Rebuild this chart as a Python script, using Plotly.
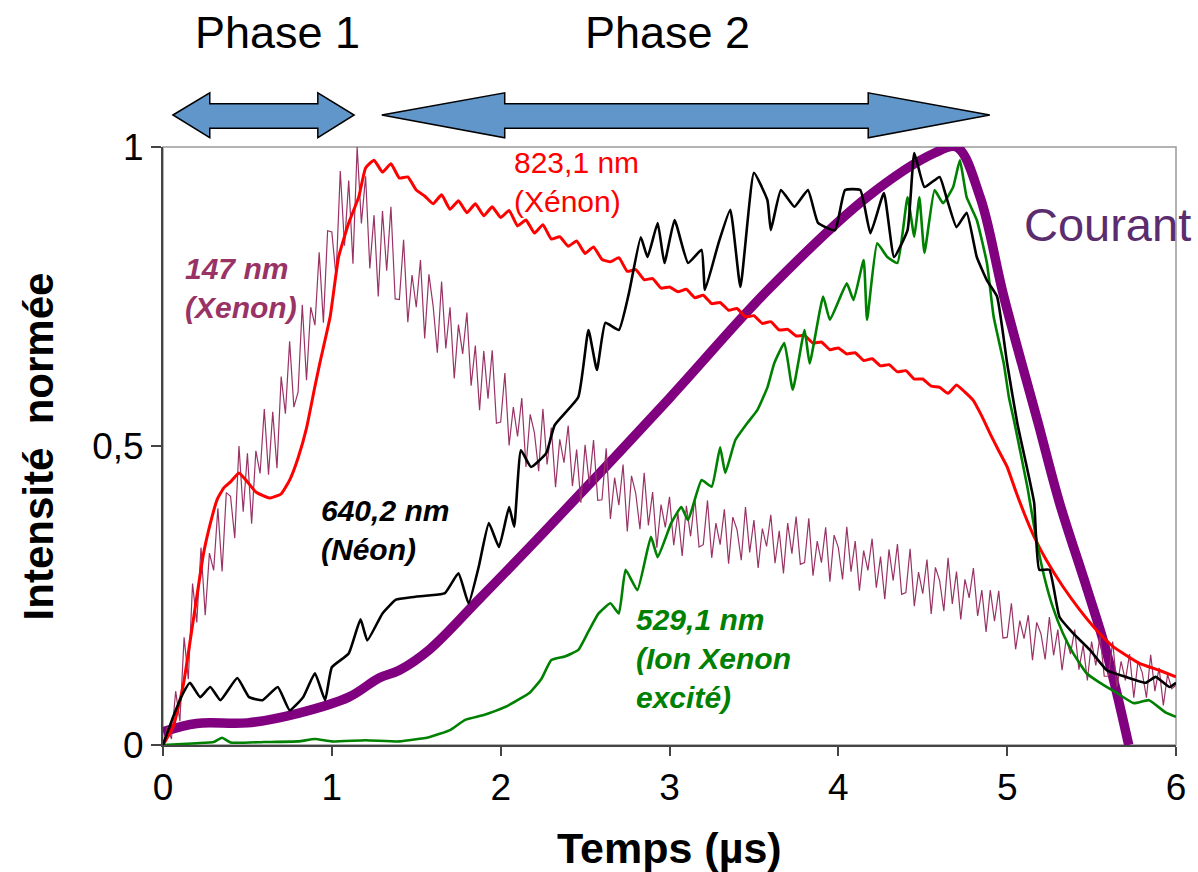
import plotly.graph_objects as go

# ---------------- data ----------------
t_courant = [0, 0.2, 0.5, 0.8, 1.1, 1.28, 1.4, 1.58, 1.87, 2.27, 3.0, 3.58, 4.17, 4.57, 4.70,
             4.84, 4.98, 5.18, 5.31, 5.47, 5.59, 5.72]
i_courant = [0.022, 0.036, 0.037, 0.053, 0.08, 0.112, 0.125, 0.16, 0.243, 0.36, 0.58, 0.76,
             0.916, 0.99, 1.0, 0.916, 0.75, 0.542, 0.405, 0.264, 0.154, 0.0]

# 147 nm, sampled every 0.025 µs
t_147 = [round(k * 0.025, 3) for k in range(241)]
i_147 = [0.0, 0.03, 0.01, 0.09, 0.04, 0.18, 0.11, 0.27,
         0.205, 0.33, 0.217, 0.321, 0.292, 0.396, 0.29, 0.422,
         0.416, 0.346, 0.50, 0.39, 0.488, 0.37, 0.492, 0.454,
         0.562, 0.452, 0.557, 0.463, 0.616, 0.554, 0.675, 0.565,
         0.59, 0.736, 0.61, 0.732, 0.702, 0.824, 0.706, 0.86,
         0.858, 0.783, 0.96, 0.835, 0.944, 0.805, 1.0, 0.872,
         0.951, 0.797, 0.886, 0.75, 0.893, 0.793, 0.90, 0.746,
         0.745, 0.845, 0.707, 0.786, 0.732, 0.811, 0.68, 0.787,
         0.734, 0.656, 0.775, 0.663, 0.732, 0.613, 0.703, 0.654,
         0.723, 0.601, 0.668, 0.56, 0.659, 0.579, 0.66, 0.538,
         0.54, 0.622, 0.501, 0.565, 0.516, 0.58, 0.465, 0.553,
         0.522, 0.458, 0.562, 0.469, 0.531, 0.431, 0.511, 0.472,
         0.534, 0.433, 0.494, 0.405, 0.502, 0.437, 0.51, 0.409,
         0.41, 0.496, 0.378, 0.447, 0.401, 0.469, 0.357, 0.45,
         0.421, 0.361, 0.455, 0.367, 0.423, 0.33, 0.402, 0.364,
         0.415, 0.334, 0.388, 0.316, 0.40, 0.349, 0.413, 0.331,
         0.335, 0.409, 0.313, 0.371, 0.335, 0.394, 0.303, 0.381,
         0.36, 0.309, 0.398, 0.322, 0.376, 0.296, 0.362, 0.332,
         0.385, 0.304, 0.358, 0.287, 0.371, 0.32, 0.382, 0.302,
         0.305, 0.379, 0.283, 0.341, 0.305, 0.364, 0.273, 0.351,
         0.33, 0.277, 0.365, 0.29, 0.341, 0.258, 0.325, 0.292,
         0.345, 0.263, 0.315, 0.244, 0.327, 0.275, 0.336, 0.252,
         0.255, 0.328, 0.232, 0.289, 0.253, 0.310, 0.219, 0.297,
         0.275, 0.224, 0.313, 0.236, 0.29, 0.21, 0.277, 0.246,
         0.296, 0.216, 0.259, 0.189, 0.259, 0.207, 0.258, 0.179,
         0.18, 0.237, 0.16, 0.208, 0.178, 0.217, 0.142, 0.205,
         0.186, 0.143, 0.214, 0.15, 0.193, 0.125, 0.178, 0.152,
         0.193, 0.126, 0.167, 0.108, 0.173, 0.133, 0.182, 0.115,
         0.115, 0.173, 0.097, 0.14, 0.108, 0.152, 0.079, 0.14,
         0.121, 0.079, 0.151, 0.09, 0.129, 0.066, 0.118, 0.094,
         0.10]

t_823 = [0, 0.06, 0.12, 0.18, 0.24, 0.28, 0.32, 0.36, 0.40, 0.45, 0.50, 0.55, 0.63, 0.70, 0.75,
         0.80, 0.85, 0.90, 0.93, 0.99, 1.04, 1.10, 1.16,
         1.20, 1.25, 1.30, 1.35, 1.40, 1.45, 1.50, 1.55, 1.60, 1.65, 1.70, 1.75, 1.80, 1.85, 1.90, 1.95,
         2.00, 2.05, 2.10, 2.15, 2.20, 2.25, 2.30, 2.35, 2.40, 2.45, 2.50, 2.55, 2.60, 2.65, 2.70, 2.75,
         2.80, 2.85, 2.90, 2.95, 3.00, 3.05, 3.10, 3.15, 3.20, 3.25, 3.30, 3.35, 3.40, 3.45, 3.50, 3.55,
         3.60, 3.65, 3.70, 3.75, 3.80, 3.85, 3.90, 3.95, 4.00, 4.05, 4.10, 4.15, 4.20, 4.25, 4.30, 4.35,
         4.40, 4.45, 4.50, 4.55, 4.60, 4.65, 4.70, 4.75, 4.80, 4.85, 4.90, 4.95, 5.00, 5.05, 5.10, 5.16,
         5.23, 5.33, 5.43, 5.53, 5.63, 5.78, 5.90, 6.0]
i_823 = [0, 0.03, 0.10, 0.21, 0.32, 0.37, 0.41, 0.43, 0.44, 0.455, 0.44, 0.423, 0.413, 0.42, 0.443,
         0.48, 0.53, 0.60, 0.64, 0.716, 0.816, 0.873, 0.917,
         0.965, 0.978, 0.958, 0.972, 0.948, 0.950, 0.928, 0.918, 0.905, 0.920, 0.896, 0.910, 0.890, 0.905, 0.885, 0.900,
         0.882, 0.894, 0.868, 0.878, 0.856, 0.870, 0.846, 0.850, 0.834, 0.843, 0.822, 0.833, 0.812, 0.808, 0.815, 0.792,
         0.795, 0.778, 0.780, 0.764, 0.766, 0.758, 0.762, 0.748, 0.752, 0.738, 0.740, 0.727, 0.730, 0.716, 0.718, 0.705,
         0.708, 0.694, 0.695, 0.684, 0.685, 0.672, 0.674, 0.661, 0.664, 0.654, 0.656, 0.643, 0.646, 0.634, 0.636, 0.624,
         0.626, 0.612, 0.612, 0.600, 0.598, 0.588, 0.602, 0.590, 0.576, 0.550, 0.520, 0.492, 0.465, 0.425, 0.388, 0.348,
         0.31, 0.265, 0.226, 0.192, 0.164, 0.137, 0.125, 0.114]

t_640 = [0, 0.06, 0.12, 0.16, 0.22, 0.28, 0.34, 0.44, 0.51, 0.59, 0.68, 0.75, 0.83, 0.90, 0.96, 1.0,
         1.10, 1.17, 1.21, 1.30, 1.38, 1.47, 1.57, 1.67, 1.75, 1.81, 1.87, 1.93, 1.99, 2.05, 2.08,
         2.12, 2.18, 2.27, 2.32, 2.46, 2.52, 2.57, 2.62, 2.70, 2.76, 2.83, 2.87, 2.93, 2.97, 3.03,
         3.11, 3.19, 3.21, 3.29, 3.36, 3.42, 3.50, 3.58, 3.60, 3.66, 3.74, 3.82, 3.88, 3.98, 4.04,
         4.13, 4.19, 4.27, 4.33, 4.41, 4.45, 4.51, 4.60, 4.64, 4.70, 4.76, 4.82, 4.88, 4.94, 5.00,
         5.06, 5.12, 5.16, 5.19, 5.25, 5.31, 5.39, 5.49, 5.59, 5.70, 5.82, 5.88, 5.96, 6.0]
i_640 = [0, 0.047, 0.087, 0.104, 0.08, 0.097, 0.075, 0.112, 0.08, 0.075, 0.097, 0.058, 0.08, 0.12, 0.075, 0.13,
         0.153, 0.21, 0.175, 0.22, 0.243, 0.247, 0.25, 0.254, 0.287, 0.237, 0.298, 0.371, 0.331, 0.398, 0.365,
         0.493, 0.465, 0.488, 0.535, 0.582, 0.694, 0.627, 0.706, 0.694, 0.756, 0.849, 0.816, 0.873, 0.806, 0.878,
         0.806, 0.828, 0.761, 0.839, 0.895, 0.766, 0.957, 0.911, 0.861, 0.928, 0.90, 0.928, 0.873, 0.861, 0.928,
         0.928, 0.856, 0.923, 0.816, 0.861, 0.99, 0.933, 0.95, 0.916, 0.866, 0.89, 0.816, 0.777, 0.75, 0.638,
         0.538, 0.46, 0.405, 0.293, 0.293, 0.214, 0.187, 0.159, 0.125, 0.114, 0.104, 0.114, 0.097, 0.104]

t_529 = [0, 0.2, 0.3, 0.35, 0.4, 0.6, 0.8, 0.9, 1.0, 1.2, 1.4, 1.575, 1.7, 1.79, 1.9, 2.03, 2.10, 2.17,
         2.24, 2.30, 2.38, 2.46, 2.52, 2.58, 2.65, 2.70, 2.74, 2.81, 2.89, 2.93, 3.01, 3.07, 3.11, 3.19,
         3.25, 3.30, 3.33, 3.39, 3.46, 3.52, 3.58, 3.62, 3.68, 3.73, 3.80, 3.83, 3.91, 3.95, 4.05, 4.09,
         4.15, 4.17, 4.23, 4.29, 4.35, 4.41, 4.45, 4.48, 4.51, 4.57, 4.62, 4.68, 4.72, 4.76, 4.82, 4.88,
         4.92, 4.98, 5.01, 5.04, 5.12, 5.17, 5.22, 5.27, 5.33, 5.39, 5.47, 5.55, 5.65, 5.75, 5.84, 5.94, 6.0]
i_529 = [0, 0.003, 0.005, 0.012, 0.004, 0.005, 0.006, 0.01, 0.006, 0.008, 0.006, 0.013, 0.025, 0.042, 0.05,
         0.064, 0.075, 0.087, 0.11, 0.142, 0.148, 0.159, 0.19, 0.22, 0.237, 0.22, 0.293, 0.259, 0.348, 0.314,
         0.371, 0.398, 0.376, 0.443, 0.432, 0.498, 0.455, 0.51, 0.538, 0.56, 0.598, 0.638, 0.672, 0.594, 0.694,
         0.638, 0.75, 0.711, 0.772, 0.744, 0.811, 0.711, 0.839, 0.816, 0.806, 0.916, 0.85, 0.916, 0.823, 0.928,
         0.906, 0.933, 0.978, 0.916, 0.878, 0.806, 0.716, 0.638, 0.582, 0.543, 0.431, 0.348, 0.281, 0.231, 0.187,
         0.154, 0.12, 0.104, 0.087, 0.07, 0.075, 0.054, 0.047]

x_ticks = [0, 1, 2, 3, 4, 5, 6]
x_ticklabels = ["0", "1", "2", "3", "4", "5", "6"]
y_ticks = [0, 0.5, 1]
y_ticklabels = ["0", "0,5", "1"]

FONT = "Liberation Sans, Arial, sans-serif"

fig = go.Figure()
fig.add_trace(go.Scatter(x=t_courant, y=i_courant, mode="lines", line=dict(color="#800080", width=9.5, shape="spline"),
                         name="Courant", showlegend=False))
fig.add_trace(go.Scatter(x=t_147, y=i_147, mode="lines", line=dict(color="#993366", width=1.2),
                         name="147 nm", showlegend=False))
fig.add_trace(go.Scatter(x=t_823, y=i_823, mode="lines",
                         line=dict(color="#FF0000", width=3, shape="spline", smoothing=0.4),
                         name="823,1 nm", showlegend=False))
fig.add_trace(go.Scatter(x=t_529, y=i_529, mode="lines",
                         line=dict(color="#008000", width=2.6, shape="spline", smoothing=0.4),
                         name="529,1 nm", showlegend=False))
fig.add_trace(go.Scatter(x=t_640, y=i_640, mode="lines",
                         line=dict(color="#000000", width=2.6, shape="spline", smoothing=0.4),
                         name="640,2 nm", showlegend=False))

# plot frame (top / right in light grey)
fig.add_shape(type="rect", xref="paper", yref="paper", x0=0, x1=1, y0=0, y1=1,
              line=dict(color="#999999", width=1.5), layer="below")

# phase arrows (x in data units, y in paper units)
def arrow_path(xl, xhl, xhr, xr):
    yc, yht, yhb, yst, ysb = 1.0535, 1.0905, 1.0155, 1.0725, 1.0315
    return (f"M {xl} {yc} L {xhl} {yht} L {xhl} {yst} L {xhr} {yst} L {xhr} {yht} "
            f"L {xr} {yc} L {xhr} {yhb} L {xhr} {ysb} L {xhl} {ysb} L {xhl} {yhb} Z")

for xs in [(0.059, 0.277, 0.917, 1.132), (1.296, 2.024, 4.177, 4.897)]:
    fig.add_shape(type="path", xref="x", yref="paper", path=arrow_path(*xs),
                  fillcolor="#6196CA", line=dict(color="#000000", width=1.5))

annots = [
    dict(x=0.118, y=0.765, text="<b><i>147 nm<br>(Xenon)</i></b>", color="#993366", size=30),
    dict(x=2.065, y=0.941, text="823,1 nm<br>(Xénon)", color="#FF0000", size=30),
    dict(x=0.926, y=0.36, text="<b><i>640,2 nm<br>(Néon)</i></b>", color="#000000", size=30),
    dict(x=2.79, y=0.145, text="<b><i>529,1 nm<br>(Ion Xenon<br>excité)</i></b>", color="#008000", size=30),
    dict(x=5.086, y=0.871, text="Courant", color="#5B2D6E", size=47),
]
for a in annots:
    fig.add_annotation(x=a["x"], y=a["y"], xref="x", yref="y", text=a["text"], showarrow=False,
                       xanchor="left", yanchor="middle", align="left",
                       font=dict(family=FONT, size=a["size"], color=a["color"]))

fig.add_annotation(x=0.678, y=1.192, xref="x", yref="paper", text="Phase 1", showarrow=False,
                   font=dict(family=FONT, size=45, color="#000000"), xanchor="center", yanchor="middle")
fig.add_annotation(x=2.99, y=1.192, xref="x", yref="paper", text="Phase 2", showarrow=False,
                   font=dict(family=FONT, size=45, color="#000000"), xanchor="center", yanchor="middle")

fig.add_annotation(x=0.5, y=-0.172, xref="paper", yref="paper", text="<b>Temps (µs)</b>", showarrow=False,
                   font=dict(family=FONT, size=43, color="#000000"), xanchor="center", yanchor="middle")
fig.add_annotation(x=-0.123, y=0.5, xref="paper", yref="paper", text="<b>Intensité  normée</b>", showarrow=False,
                   textangle=-90, font=dict(family=FONT, size=42, color="#000000"),
                   xanchor="center", yanchor="middle")

fig.update_layout(
    width=1198, height=872,
    margin=dict(l=163, r=18, t=147, b=127),
    plot_bgcolor="#FFFFFF", paper_bgcolor="#FFFFFF",
    font=dict(family=FONT, color="#000000"),
    showlegend=False,
)
fig.update_xaxes(range=[0, 6], tickvals=x_ticks, ticktext=x_ticklabels, showgrid=False, zeroline=False,
                 showline=True, linecolor="#444444", linewidth=2, ticks="outside", ticklen=9,
                 tickcolor="#444444", tickwidth=1.5, tickfont=dict(family=FONT, size=37, color="#000000"))
fig.update_yaxes(range=[0, 1], tickvals=y_ticks, ticktext=y_ticklabels, showgrid=False, zeroline=False,
                 showline=True, linecolor="#444444", linewidth=2, ticks="outside", ticklen=10,
                 tickcolor="#444444", tickwidth=1.5, tickfont=dict(family=FONT, size=37, color="#000000"))

fig.write_html("out.html", config={"displayModeBar": False},
               post_script="document.body.style.margin='0';")
